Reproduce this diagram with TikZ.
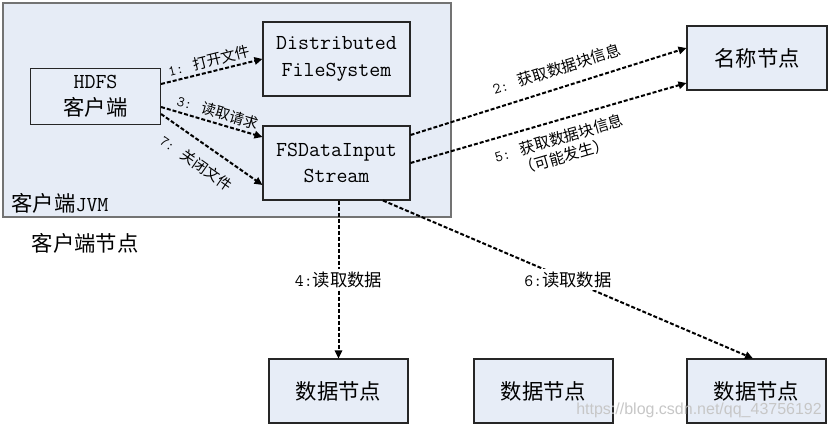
\documentclass[tikz,border=0pt]{standalone}
\usepackage{fontspec}
\newfontfamily\zhfont{Noto Sans CJK SC}
\newfontfamily\wmfont{Liberation Sans}
\newcommand\zh[1]{{\zhfont #1}}
\usetikzlibrary{calc,arrows.meta}
\definecolor{boxfill}{HTML}{E7EDF7}
\definecolor{jvmfill}{HTML}{E6ECF6}
\begin{document}
\begin{tikzpicture}[x=0.75pt,y=-0.75pt,
  box/.style={draw=black!85, fill=boxfill, line width=0.8pt, inner sep=0pt, align=center,
    font=\fontsize{16}{20}\selectfont},
  wide/.style={box, minimum width=110.25pt, minimum height=55.5pt},
  dnode/.style={box, minimum width=104.25pt, minimum height=48pt},
  flow/.style={line width=1.5pt, dash pattern=on 3pt off 1.5pt, -{Triangle[length=6pt,width=5.5pt]}},
  lbl/.style={font=\fontsize{11}{13}\selectfont, inner sep=1pt},
  lblb/.style={font=\fontsize{11.5}{14}\selectfont, inner sep=1pt, align=center},
  lblc/.style={font=\fontsize{13}{15}\selectfont, inner sep=2pt, fill=white},
  plain/.style={font=\fontsize{16}{20}\selectfont, inner sep=0pt}]
\useasboundingbox (0,0) rectangle (832,427);
\fill[white] (0,0) rectangle (832,427);
\node[draw=black!55, fill=jvmfill, line width=0.8pt, minimum width=336pt, minimum height=160.5pt, inner sep=0pt] (jvm) at (227,110) {};
\node[box, minimum width=97.5pt, minimum height=42pt] (hdfs) at (95.5,96.5) {\ttfamily HDFS\\\zh{客户端}};
\node[wide] (dfs) at (336.5,59) {\ttfamily Distributed\\\ttfamily FileSystem};
\node[wide] (fsd) at (336.5,163) {\ttfamily FSDataInput\\\ttfamily Stream};
\node[box, minimum width=105pt, minimum height=48pt] (nn) at (757,58) {\zh{名称节点}};
\node[dnode] (d1) at (338.5,391) {\zh{数据节点}};
\node[dnode] (d2) at (543.5,391) {\zh{数据节点}};
\node[dnode] (d3) at (756.5,391) {\zh{数据节点}};
\node[plain] (jvmlbl) at (60,203) {\zh{客户端}\ttfamily JVM};
\node[plain] (cnode) at (85,243) {\zh{客户端节点}};
\draw[flow] ($(hdfs.east)+(0,-12.5)$) -- node[lbl, sloped, above=1.5pt, pos=0.5] {\ttfamily 1: \zh{打开文件}} (dfs.west);
\draw[flow] ($(hdfs.east)+(0,10.5)$) -- node[lbl, sloped, above=1.5pt, pos=0.53] {\ttfamily 3: \zh{读取请求}} ($(fsd.west)+(0,-26)$);
\draw[flow] ($(hdfs.east)+(0,17.5)$) -- node[lbl, sloped, below=8pt, pos=0.46] {\ttfamily 7: \zh{关闭文件}} ($(fsd.west)+(0,22)$);
\draw[flow] ($(fsd.east)+(0,-28)$) -- node[lblb, sloped, above=7pt, pos=0.55] {\ttfamily 2: \zh{获取数据块信息}} ($(nn.west)+(0,-10)$);
\draw[flow] (fsd.east) -- node[lblb, sloped, below=6pt, pos=0.52] {\ttfamily 5: \zh{获取数据块信息}\\\zh{（可能发生）}} ($(nn.west)+(0,25)$);
\draw[flow] (fsd.south -| d1.north) -- node[lblc] {\ttfamily 4:\zh{读取数据}} (d1.north);
\draw[flow] ($(fsd.south)+(46.5,0)$) -- node[lblc] {\ttfamily 6:\zh{读取数据}} ($(d3.north)+(-3.5,0)$);
\node[font=\wmfont\fontsize{12}{14}\selectfont, text=black!22, anchor=west, inner sep=0pt] (wm) at (576,410) {https://blog.csdn.net/qq\_43756192};
\end{tikzpicture}
\end{document}
